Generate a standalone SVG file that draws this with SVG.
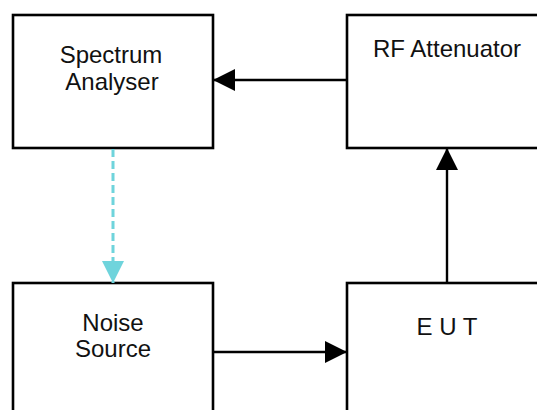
<svg xmlns="http://www.w3.org/2000/svg" width="537" height="410" viewBox="0 0 537 410">
  <style>
    .box { fill: #ffffff; stroke: #000000; stroke-width: 2.6; }
    .label { font-family: "Liberation Sans", Arial, sans-serif; font-size: 24px; fill: #111111; text-anchor: middle; }
    .wire { fill: none; stroke: #000000; stroke-width: 2.4; }
    .dash { fill: none; stroke: #6fd4dc; stroke-width: 3; stroke-dasharray: 8 4; }
  </style>
  <defs>
    <marker id="head" viewBox="0 0 10 10" refX="10" refY="5" markerWidth="27" markerHeight="22" markerUnits="userSpaceOnUse" orient="auto">
      <path d="M0,0 L10,5 L0,10 Z" fill="#000000"/>
    </marker>
    <marker id="headCyan" viewBox="0 0 10 10" refX="10" refY="5" markerWidth="27" markerHeight="22" markerUnits="userSpaceOnUse" orient="auto">
      <path d="M0,0 L10,5 L0,10 Z" fill="#6fd4dc"/>
    </marker>
  </defs>

  <rect width="537" height="410" fill="#ffffff"/>

  <g id="spectrum-analyser">
    <rect class="box" x="13" y="15" width="200" height="133"/>
    <text class="label" x="111" y="63">Spectrum</text>
    <text class="label" x="112" y="90">Analyser</text>
  </g>

  <g id="rf-attenuator">
    <rect class="box" x="347" y="15" width="200" height="133"/>
    <text class="label" x="447" y="57">RF Attenuator</text>
  </g>

  <g id="noise-source">
    <rect class="box" x="13" y="283" width="200" height="140"/>
    <text class="label" x="113" y="331">Noise</text>
    <text class="label" x="113" y="357">Source</text>
  </g>

  <g id="eut">
    <rect class="box" x="347" y="283" width="200" height="140"/>
    <text class="label" x="447" y="335">E U T</text>
  </g>

  <g id="connectors">
    <line class="wire" x1="347" y1="80" x2="213" y2="80" marker-end="url(#head)"/>
    <line class="wire" x1="447" y1="283" x2="447" y2="148" marker-end="url(#head)"/>
    <line class="wire" x1="213" y1="352" x2="347" y2="352" marker-end="url(#head)"/>
    <line class="dash" x1="113" y1="149" x2="113" y2="283" marker-end="url(#headCyan)"/>
  </g>
</svg>
